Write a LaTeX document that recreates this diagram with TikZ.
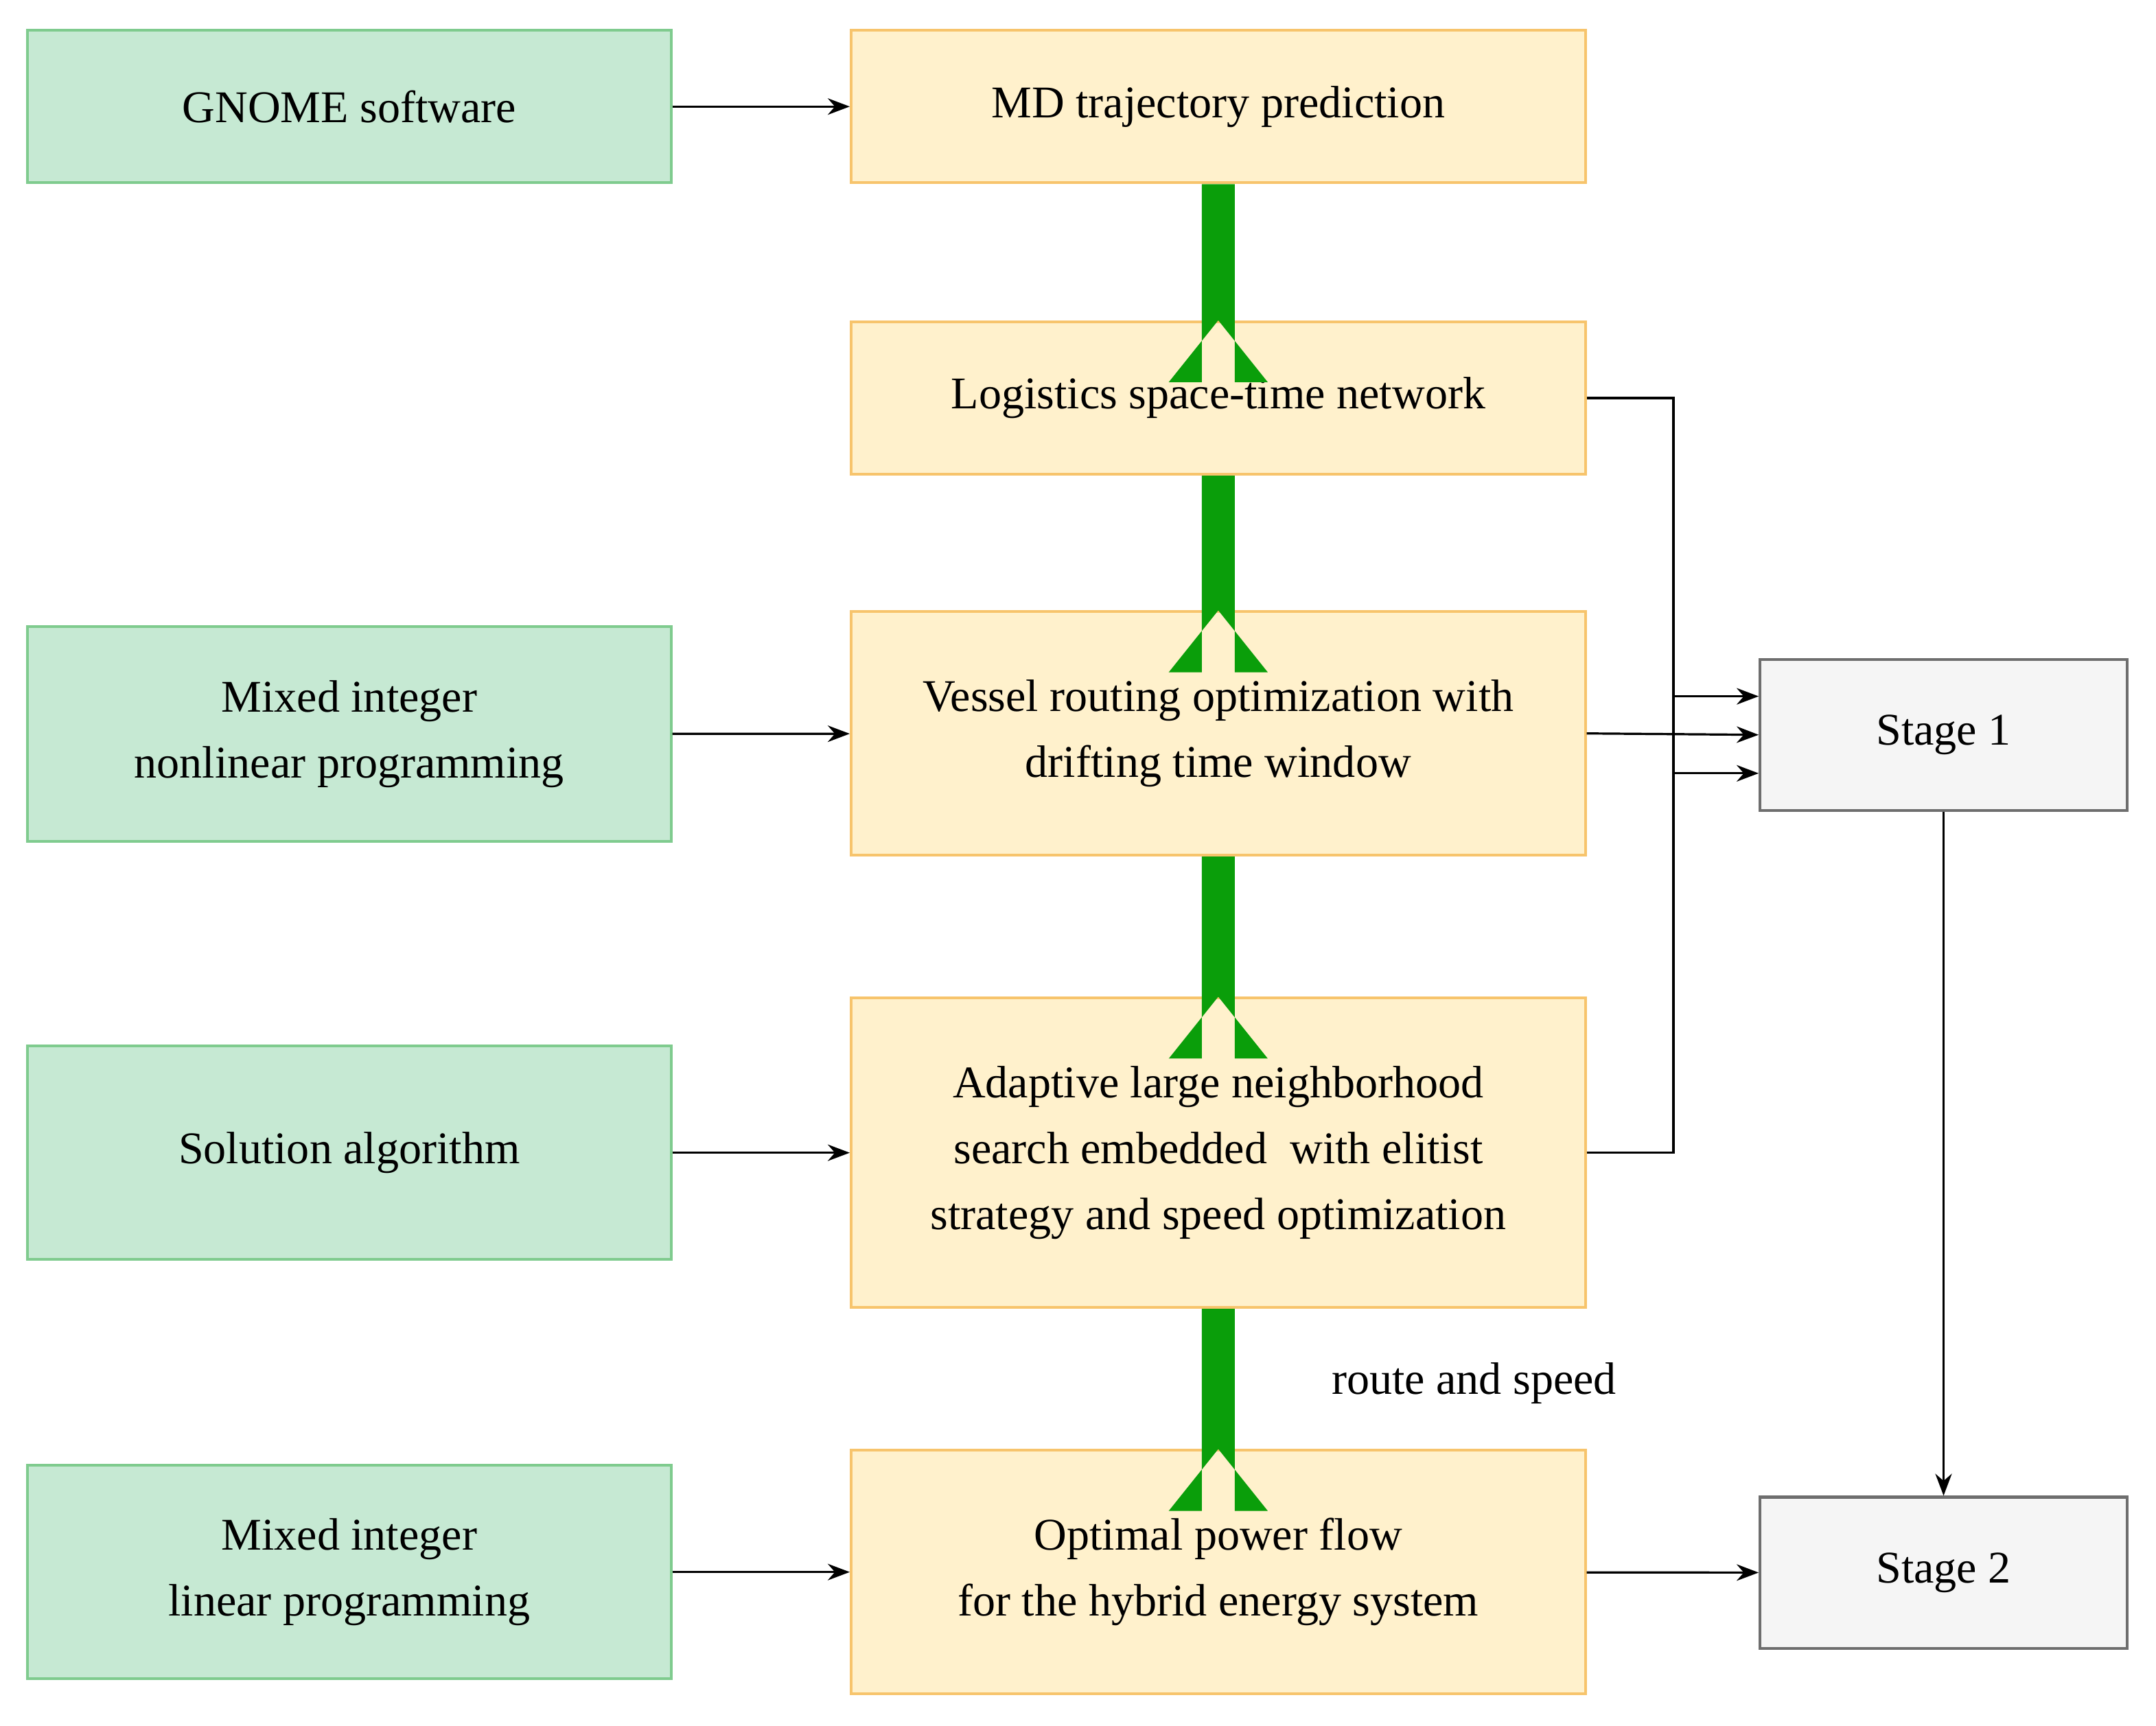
\documentclass[tikz,border=0pt]{standalone}
\usepackage{fontspec}
\setmainfont{Liberation Serif}
\usetikzlibrary{arrows.meta}
\definecolor{gfill}{HTML}{C6E9D3}\definecolor{gline}{HTML}{7FCB8E}
\definecolor{ofill}{HTML}{FFF1CC}\definecolor{oline}{HTML}{F7C46C}
\definecolor{sfill}{HTML}{F5F5F5}\definecolor{sline}{HTML}{6E6E6E}
\definecolor{bigg}{HTML}{0A9E0A}
\begin{document}
\begin{tikzpicture}[x=1pt,y=-1pt,
 box/.style={draw,line width=2pt,minimum width=#1,align=center,inner sep=0pt,font=\fontsize{33}{48}\selectfont},
 gb/.style={box=468pt,fill=gfill,draw=gline},
 ob/.style={box=534pt,fill=ofill,draw=oline},
 sb/.style={box=267pt,fill=sfill,draw=sline,minimum height=110pt},
 ar/.style={-{Stealth[length=16pt,width=12pt]},line width=1.6pt},
 big/.style={fill=bigg}]
\useasboundingbox (0,0) rectangle (1568,1255);
\node[gb,minimum height=111pt] (g1) at (254,77.5) {GNOME software};
\node[gb,minimum height=156pt] (g2) at (254,534) {Mixed integer\\nonlinear programming};
\node[gb,minimum height=155pt] (g3) at (254,838.5) {Solution algorithm};
\node[gb,minimum height=155pt] (g4) at (254,1143.5) {Mixed integer\\linear programming};
\node[ob,minimum height=111pt] (o1) at (886,77.5) {MD trajectory prediction};
\node[ob,minimum height=111pt] (o2) at (886,289.5) {Logistics space-time network};
\node[ob,minimum height=177pt] (o3) at (886,533.5) {Vessel routing optimization with\\drifting time window};
\node[ob,minimum height=225pt] (o4) at (886,838.5) {Adaptive large neighborhood\\search embedded\ \ with elitist\\strategy and speed optimization};
\node[ob,minimum height=177pt] (o5) at (886,1143.5) {Optimal power flow\\for the hybrid energy system};
\node[sb] (s1) at (1413.5,534.5) {Stage 1};
\node[sb] (s2) at (1413.5,1144) {Stage 2};
\draw[ar] (g1) -- (o1);
\draw[ar] (g2) -- (o3);
\draw[ar] (g3) -- (o4);
\draw[ar] (g4) -- (o5);
\draw[ar] (o2.east) -- (1217,289.5) |- ([yshift=-28pt]s1.west);
\draw[ar] (o3.east) -- (s1.west);
\draw[ar] (o4.east) -- (1217,838.5) |- ([yshift=28pt]s1.west);
\draw[ar] (s1) -- (s2);
\draw[ar] (o5) -- (s2);
\foreach \a/\b in {o1/o2,o2/o3,o3/o4,o4/o5}{
 \path (\a.south) coordinate (t) (\b.north) coordinate (h);
 \fill[big] ([xshift=-12pt]t) -- ([xshift=12pt]t) -- ([xshift=12pt,yshift=-45pt]h) -- ([xshift=36pt,yshift=-45pt]h) -- (h) -- ([xshift=-36pt,yshift=-45pt]h) -- ([xshift=-12pt,yshift=-45pt]h) -- cycle;}
\node[font=\fontsize{33}{40}\selectfont] (lbl) at (1072,1006) {route and speed};
\end{tikzpicture}
\end{document}
